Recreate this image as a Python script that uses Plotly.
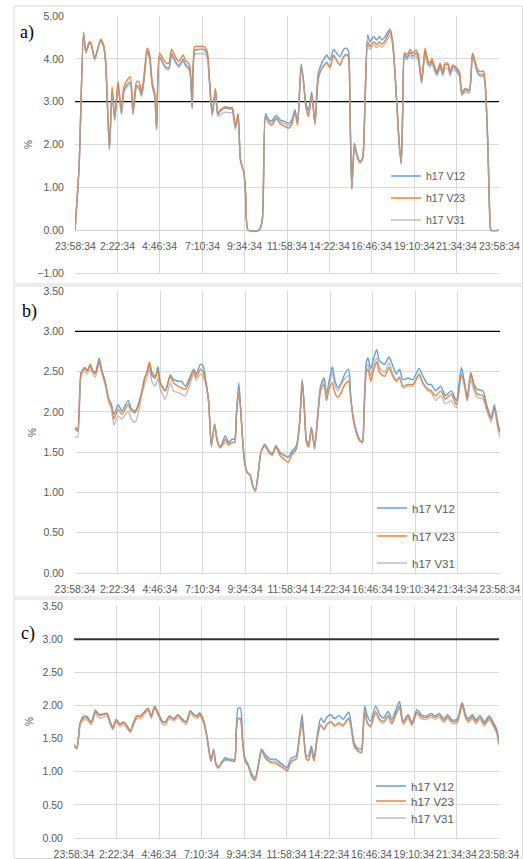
import plotly.graph_objects as go

# ---------------- data ----------------
time_labels = ["23:58:34", "2:22:34", "4:46:34", "7:10:34", "9:34:34", "11:58:34",
               "14:22:34", "16:46:34", "19:10:34", "21:34:34", "23:58:34"]
tick_minutes = [0, 144, 288, 432, 576, 720, 864, 1008, 1152, 1296, 1440]
series_names = ["h17 V12", "h17 V23", "h17 V31"]
limit_minutes = [0, 1440]
limit_value = [3.0, 3.0]

a_minutes = [0, 14, 29, 37, 49, 55, 67, 87, 97, 104,
             117, 126, 135, 146, 158, 166, 177, 188, 197, 209,
             217, 226, 234, 245, 253, 262, 271, 277, 287, 302,
             310, 319, 328, 341, 353, 367, 375, 389, 398, 407,
             421, 438, 449, 457, 466, 477, 485, 494, 511, 523,
             534, 545, 554, 562, 574, 580, 588, 625, 636, 647,
             658, 668, 684, 698, 715, 725, 736, 747, 756, 768,
             776, 784, 793, 804, 815, 826, 838, 847, 855, 866,
             878, 889, 900, 912, 923, 929, 934, 940, 949, 957,
             968, 977, 985, 994, 1002, 1014, 1025, 1034, 1042, 1053,
             1070, 1079, 1091, 1101, 1108, 1113, 1119, 1127, 1138, 1147,
             1158, 1166, 1177, 1189, 1198, 1206, 1212, 1221, 1229, 1240,
             1249, 1257, 1266, 1274, 1283, 1297, 1306, 1314, 1325, 1339,
             1350, 1359, 1368, 1379, 1387, 1393, 1402, 1408, 1413, 1440]
a_v12 = [0, 1.5, 4.60, 4.15, 4.38, 4.34, 3.99, 4.43, 4.30, 3.93,
         1.88, 3.28, 2.58, 3.38, 2.72, 3.25, 3.40, 3.45, 2.72, 3.37,
         3.35, 3.15, 3.50, 4.17, 4.05, 3.40, 3.13, 2.35, 4.05, 3.87,
         3.80, 3.79, 4.12, 3.95, 3.84, 3.99, 3.87, 3.77, 2.85, 4.20,
         4.22, 4.22, 4.10, 3.45, 2.70, 3.28, 2.70, 2.78, 2.85, 2.83,
         2.83, 2.40, 2.72, 1.64, 1.33, 0.78, 0, 0, 0.23, 2.72,
         2.58, 2.55, 2.68, 2.57, 2.53, 2.49, 2.57, 2.81, 2.52, 3.88,
         3.50, 2.96, 2.80, 3.22, 2.52, 3.66, 3.90, 4.01, 4.09, 3.97,
         4.22, 4.13, 4.05, 4.22, 4.25, 4.17, 2.80, 0.97, 2.03, 1.79,
         1.60, 1.71, 3.04, 4.56, 4.40, 4.52, 4.44, 4.52, 4.44, 4.52,
         4.69, 4.40, 3.20, 2.03, 1.56, 2.80, 4.10, 4.02, 4.15, 4.06,
         4.13, 4.02, 3.45, 4.18, 3.92, 3.85, 3.95, 3.77, 3.65, 3.85,
         3.65, 3.86, 3.86, 3.66, 3.82, 3.73, 3.62, 3.18, 3.27, 3.25,
         4.13, 3.90, 3.68, 3.62, 3.65, 3.40, 2.03, 0.47, 0, 0]
a_v23 = [0, 1.5, 4.62, 4.17, 4.40, 4.36, 4.01, 4.46, 4.33, 3.97,
         1.91, 3.35, 2.61, 3.47, 2.77, 3.35, 3.50, 3.58, 2.77, 3.47,
         3.47, 3.23, 3.58, 4.25, 4.13, 3.47, 3.20, 2.38, 4.13, 3.97,
         3.90, 3.90, 4.22, 4.05, 3.94, 4.09, 3.97, 3.86, 2.88, 4.29,
         4.29, 4.29, 4.17, 3.50, 2.73, 3.31, 2.73, 2.81, 2.88, 2.86,
         2.86, 2.42, 2.69, 1.64, 1.33, 0.78, 0, 0, 0.23, 2.65,
         2.50, 2.45, 2.60, 2.48, 2.42, 2.38, 2.47, 2.75, 2.45, 3.82,
         3.45, 2.88, 2.65, 3.15, 2.46, 3.52, 3.78, 3.86, 3.92, 3.80,
         4.09, 3.97, 3.86, 4.05, 4.10, 4.05, 2.80, 0.97, 2.00, 1.75,
         1.58, 1.68, 3.00, 4.40, 4.29, 4.40, 4.33, 4.40, 4.34, 4.42,
         4.64, 4.36, 3.20, 2.03, 1.56, 2.80, 4.15, 4.09, 4.22, 4.13,
         4.20, 4.09, 3.50, 4.25, 3.97, 3.90, 4.01, 3.82, 3.70, 3.90,
         3.70, 3.90, 3.90, 3.70, 3.86, 3.78, 3.70, 3.23, 3.31, 3.27,
         4.13, 3.94, 3.74, 3.70, 3.72, 3.43, 2.03, 0.47, 0, 0]
a_v31 = [0, 1.5, 4.58, 4.13, 4.35, 4.32, 3.97, 4.41, 4.28, 3.90,
         1.87, 3.22, 2.55, 3.32, 2.70, 3.22, 3.35, 3.40, 2.70, 3.33,
         3.30, 3.12, 3.45, 4.12, 4.00, 3.35, 3.10, 2.33, 4.02, 3.83,
         3.76, 3.75, 4.08, 3.91, 3.80, 3.95, 3.83, 3.72, 2.82, 4.10,
         4.12, 4.12, 4.02, 3.40, 2.65, 3.22, 2.66, 2.70, 2.76, 2.74,
         2.74, 2.35, 2.62, 1.62, 1.32, 0.78, 0, 0, 0.23, 2.68,
         2.53, 2.50, 2.63, 2.52, 2.48, 2.44, 2.52, 2.78, 2.48, 3.80,
         3.45, 2.90, 2.70, 3.15, 2.48, 3.55, 3.76, 3.84, 3.90, 3.78,
         4.05, 3.95, 3.84, 4.03, 4.08, 4.03, 2.78, 0.95, 1.98, 1.74,
         1.56, 1.66, 2.98, 4.35, 4.22, 4.33, 4.26, 4.33, 4.27, 4.35,
         4.55, 4.30, 3.18, 2.00, 1.55, 2.78, 4.05, 3.98, 4.08, 4.00,
         4.05, 3.96, 3.42, 4.10, 3.85, 3.80, 3.90, 3.72, 3.60, 3.78,
         3.60, 3.78, 3.78, 3.60, 3.75, 3.68, 3.58, 3.15, 3.22, 3.20,
         4.08, 3.85, 3.65, 3.58, 3.60, 3.38, 2.03, 0.47, 0, 0]

b_minutes = [0, 9, 21, 33, 41, 52, 60, 69, 82, 91,
             103, 114, 123, 132, 146, 159, 180, 191, 204, 216,
             227, 236, 244, 252, 261, 272, 281, 289, 306, 323,
             334, 349, 360, 374, 388, 402, 411, 425, 434, 444,
             453, 462, 473, 481, 492, 509, 521, 532, 541, 547,
             555, 561, 568, 575, 583, 594, 603, 611, 620, 630,
             643, 656, 668, 681, 696, 707, 722, 733, 750, 761,
             770, 778, 784, 792, 801, 812, 823, 832, 844, 852,
             861, 872, 880, 891, 902, 914, 927, 934, 942, 953,
             964, 974, 979, 987, 993, 1002, 1011, 1022, 1032, 1049,
             1064, 1077, 1089, 1100, 1111, 1128, 1145, 1166, 1179, 1196,
             1207, 1222, 1239, 1255, 1275, 1292, 1309, 1320, 1329, 1341,
             1352, 1363, 1382, 1396, 1410, 1421, 1433, 1440]
b_v12 = [1.79, 1.76, 2.49, 2.55, 2.51, 2.57, 2.51, 2.49, 2.67, 2.51,
         2.36, 2.16, 2.09, 1.97, 2.09, 2.01, 2.14, 2.04, 2.01, 2.11,
         2.26, 2.42, 2.49, 2.59, 2.45, 2.42, 2.56, 2.36, 2.26, 2.46,
         2.40, 2.38, 2.38, 2.32, 2.42, 2.53, 2.47, 2.59, 2.57, 2.36,
         2.12, 1.58, 1.85, 1.66, 1.56, 1.70, 1.62, 1.66, 1.66, 1.99,
         2.36, 2.07, 1.66, 1.37, 1.25, 1.21, 1.07, 1.02, 1.21, 1.50,
         1.60, 1.52, 1.48, 1.58, 1.48, 1.46, 1.44, 1.50, 1.58, 1.87,
         2.40, 1.99, 1.66, 1.60, 1.81, 1.58, 1.99, 2.32, 2.42, 2.22,
         2.38, 2.56, 2.40, 2.30, 2.36, 2.47, 2.53, 2.20, 1.95, 1.77,
         1.66, 1.62, 1.99, 2.61, 2.67, 2.53, 2.65, 2.77, 2.63, 2.59,
         2.68, 2.57, 2.47, 2.53, 2.40, 2.42, 2.40, 2.54, 2.44, 2.34,
         2.34, 2.26, 2.32, 2.20, 2.26, 2.14, 2.55, 2.36, 2.18, 2.49,
         2.34, 2.28, 2.26, 2.07, 1.93, 2.09, 1.85, 1.75]
b_v23 = [1.81, 1.78, 2.49, 2.53, 2.51, 2.59, 2.51, 2.47, 2.63, 2.51,
         2.36, 2.16, 2.09, 1.91, 2.03, 1.97, 2.09, 2.01, 1.99, 2.09,
         2.26, 2.42, 2.49, 2.62, 2.49, 2.44, 2.51, 2.36, 2.26, 2.44,
         2.36, 2.32, 2.30, 2.28, 2.38, 2.51, 2.43, 2.53, 2.49, 2.36,
         2.12, 1.58, 1.85, 1.66, 1.56, 1.66, 1.60, 1.62, 1.62, 1.95,
         2.24, 2.03, 1.64, 1.37, 1.25, 1.21, 1.07, 1.02, 1.21, 1.50,
         1.58, 1.50, 1.46, 1.56, 1.45, 1.42, 1.37, 1.46, 1.54, 1.85,
         2.38, 1.97, 1.62, 1.56, 1.79, 1.54, 1.95, 2.26, 2.34, 2.14,
         2.28, 2.36, 2.24, 2.18, 2.24, 2.34, 2.38, 2.17, 1.92, 1.74,
         1.64, 1.62, 1.95, 2.49, 2.53, 2.38, 2.51, 2.62, 2.49, 2.44,
         2.55, 2.44, 2.38, 2.42, 2.32, 2.34, 2.34, 2.47, 2.36, 2.28,
         2.26, 2.20, 2.26, 2.16, 2.22, 2.09, 2.47, 2.34, 2.14, 2.47,
         2.32, 2.22, 2.20, 2.03, 1.91, 2.05, 1.83, 1.75]
b_v31 = [1.70, 1.68, 2.45, 2.50, 2.47, 2.53, 2.47, 2.43, 2.60, 2.47,
         2.32, 2.12, 2.04, 1.83, 1.95, 1.91, 2.01, 1.91, 1.87, 2.01,
         2.22, 2.34, 2.43, 2.53, 2.37, 2.32, 2.42, 2.28, 2.16, 2.36,
         2.26, 2.24, 2.22, 2.20, 2.32, 2.47, 2.39, 2.47, 2.43, 2.32,
         2.10, 1.56, 1.83, 1.64, 1.55, 1.62, 1.58, 1.62, 1.62, 1.97,
         2.30, 2.05, 1.64, 1.37, 1.25, 1.21, 1.07, 1.02, 1.21, 1.50,
         1.60, 1.52, 1.48, 1.58, 1.50, 1.48, 1.43, 1.48, 1.56, 1.86,
         2.38, 1.98, 1.64, 1.58, 1.80, 1.56, 1.97, 2.30, 2.38, 2.18,
         2.33, 2.49, 2.34, 2.26, 2.34, 2.41, 2.45, 2.19, 1.94, 1.76,
         1.65, 1.63, 1.97, 2.53, 2.59, 2.45, 2.57, 2.67, 2.55, 2.49,
         2.61, 2.47, 2.40, 2.44, 2.30, 2.32, 2.32, 2.45, 2.34, 2.26,
         2.24, 2.14, 2.20, 2.10, 2.14, 2.05, 2.44, 2.30, 2.14, 2.40,
         2.26, 2.18, 2.16, 2.01, 1.87, 2.03, 1.78, 1.68]

c_minutes = [0, 10, 21, 33, 44, 59, 72, 86, 97, 112,
             123, 132, 143, 155, 168, 180, 191, 202, 213, 225,
             236, 251, 262, 273, 285, 298, 309, 323, 338, 352,
             366, 380, 394, 405, 417, 425, 437, 448, 456, 464,
             473, 481, 490, 501, 513, 524, 535, 544, 550, 556,
             564, 572, 579, 590, 603, 614, 626, 635, 648, 665,
             682, 693, 707, 722, 733, 739, 753, 765, 773, 779,
             787, 795, 804, 813, 824, 836, 847, 855, 870, 883,
             898, 911, 931, 940, 949, 960, 974, 979, 985, 994,
             1005, 1022, 1036, 1049, 1064, 1077, 1089, 1103, 1115, 1132,
             1145, 1162, 1177, 1195, 1209, 1224, 1238, 1253, 1266, 1281,
             1298, 1315, 1327, 1336, 1350, 1362, 1376, 1390, 1407, 1421,
             1432, 1440]
c_v12 = [1.40, 1.36, 1.74, 1.84, 1.83, 1.75, 1.93, 1.86, 1.87, 1.88,
         1.75, 1.67, 1.79, 1.72, 1.75, 1.69, 1.62, 1.75, 1.84, 1.84,
         1.89, 1.96, 1.84, 1.99, 1.89, 1.77, 1.75, 1.84, 1.80, 1.86,
         1.80, 1.75, 1.92, 1.87, 1.84, 1.89, 1.80, 1.60, 1.37, 1.17,
         1.34, 1.12, 1.07, 1.15, 1.21, 1.19, 1.19, 1.17, 1.66, 1.96,
         1.96, 1.44, 1.21, 1.11, 0.96, 0.91, 1.14, 1.34, 1.26, 1.19,
         1.19, 1.16, 1.11, 1.06, 1.19, 1.21, 1.24, 1.59, 1.86, 1.54,
         1.24, 1.24, 1.39, 1.21, 1.54, 1.81, 1.74, 1.81, 1.86, 1.80,
         1.85, 1.79, 1.90, 1.69, 1.44, 1.36, 1.34, 1.59, 1.99, 1.84,
         1.76, 1.99, 1.86, 1.81, 1.91, 1.79, 1.91, 2.06, 1.76, 1.86,
         1.74, 1.94, 1.86, 1.84, 1.88, 1.84, 1.88, 1.80, 1.86, 1.78,
         1.79, 2.04, 1.86, 1.80, 1.86, 1.78, 1.85, 1.75, 1.84, 1.74,
         1.64, 1.44]
c_v23 = [1.41, 1.36, 1.74, 1.81, 1.81, 1.74, 1.90, 1.85, 1.86, 1.87,
         1.74, 1.65, 1.79, 1.71, 1.74, 1.68, 1.61, 1.74, 1.84, 1.83,
         1.88, 1.95, 1.83, 1.98, 1.88, 1.76, 1.74, 1.83, 1.79, 1.85,
         1.79, 1.74, 1.91, 1.86, 1.83, 1.87, 1.79, 1.59, 1.36, 1.16,
         1.33, 1.11, 1.06, 1.14, 1.18, 1.18, 1.16, 1.16, 1.62, 1.81,
         1.80, 1.40, 1.16, 1.09, 0.91, 0.87, 1.12, 1.31, 1.21, 1.14,
         1.13, 1.10, 1.06, 1.01, 1.12, 1.16, 1.19, 1.55, 1.76, 1.50,
         1.19, 1.17, 1.34, 1.16, 1.50, 1.71, 1.64, 1.71, 1.76, 1.70,
         1.74, 1.70, 1.81, 1.64, 1.39, 1.33, 1.29, 1.55, 1.91, 1.74,
         1.69, 1.91, 1.79, 1.76, 1.85, 1.74, 1.86, 1.99, 1.74, 1.84,
         1.72, 1.90, 1.83, 1.82, 1.85, 1.82, 1.85, 1.77, 1.83, 1.76,
         1.76, 2.01, 1.83, 1.77, 1.83, 1.75, 1.82, 1.72, 1.81, 1.71,
         1.61, 1.42]
c_v31 = [1.38, 1.34, 1.70, 1.78, 1.78, 1.71, 1.87, 1.81, 1.82, 1.84,
         1.70, 1.63, 1.76, 1.68, 1.71, 1.65, 1.59, 1.71, 1.80, 1.80,
         1.85, 1.92, 1.80, 1.95, 1.85, 1.73, 1.70, 1.80, 1.76, 1.82,
         1.76, 1.71, 1.88, 1.83, 1.80, 1.84, 1.76, 1.57, 1.35, 1.15,
         1.32, 1.10, 1.05, 1.13, 1.18, 1.17, 1.16, 1.15, 1.62, 1.79,
         1.78, 1.40, 1.18, 1.09, 0.93, 0.89, 1.13, 1.32, 1.23, 1.16,
         1.16, 1.13, 1.08, 1.03, 1.15, 1.17, 1.20, 1.55, 1.74, 1.50,
         1.20, 1.19, 1.35, 1.17, 1.50, 1.70, 1.63, 1.70, 1.74, 1.68,
         1.72, 1.68, 1.79, 1.63, 1.38, 1.31, 1.28, 1.54, 1.88, 1.72,
         1.67, 1.88, 1.76, 1.73, 1.82, 1.71, 1.83, 1.96, 1.71, 1.80,
         1.69, 1.87, 1.80, 1.79, 1.82, 1.79, 1.82, 1.74, 1.80, 1.73,
         1.73, 1.98, 1.80, 1.74, 1.80, 1.72, 1.79, 1.69, 1.78, 1.68,
         1.58, 1.40]

for t, *vs in [(a_minutes, a_v12, a_v23, a_v31), (b_minutes, b_v12, b_v23, b_v31),
               (c_minutes, c_v12, c_v23, c_v31)]:
    for v in vs:
        assert len(v) == len(t), (len(t), len(v))

# ---------------- styling ----------------
W, H = 523, 859
colors = ["#5B9BD5", "#ED7D31", "#A5A5A5"]
opac = [0.95, 0.95, 0.72]
grid = "#D9D9D9"
txt = "#595959"
FONT = "Liberation Sans"


def fx(p):
    return p / W


def fy(p):
    return 1 - p / H


panels = [
    dict(t=a_minutes, vals=[a_v12, a_v23, a_v31], xd=[75, 499], yd=[16, 273],
         yr=[-1, 5], dt=1, label="a)", lab_xy=(27, 32), pct_xy=(28, 145),
         leg_x=392, leg_rows=[176, 198, 220], leg_font=10.5, limw=1.3, limc="#000000"),
    dict(t=b_minutes, vals=[b_v12, b_v23, b_v31], xd=[75, 500], yd=[291, 573],
         yr=[0, 3.5], dt=0.5, label="b)", lab_xy=(29, 311), pct_xy=(32, 433),
         leg_x=378, leg_rows=[508, 536, 563], leg_font=11.5, limw=1.3, limc="#000000"),
    dict(t=c_minutes, vals=[c_v12, c_v23, c_v31], xd=[74, 499], yd=[606, 838],
         yr=[0, 3.5], dt=0.5, label="c)", lab_xy=(28, 633), pct_xy=(29, 722),
         leg_x=377, leg_rows=[786, 801, 818], leg_font=11.5, limw=2, limc="#333333"),
]

fig = go.Figure()
layout = dict(width=W, height=H, margin=dict(l=0, r=0, t=0, b=0, autoexpand=False),
              paper_bgcolor="white", plot_bgcolor="white", showlegend=True,
              font=dict(family=FONT, color=txt, size=10.5))
annotations = []
shapes = []
legend_no = 0

box_rows = [(6, 284), (286, 597), (599, 858.5)]

for k, p in enumerate(panels):
    sfx = "" if k == 0 else str(k + 1)
    xa, ya = "x" + sfx, "y" + sfx
    # limit line
    fig.add_trace(go.Scatter(x=limit_minutes, y=limit_value, mode="lines",
                             line=dict(color=p["limc"], width=p["limw"]),
                             showlegend=False, hoverinfo="skip", xaxis=xa, yaxis=ya))
    for j in range(3):
        legend_no += 1
        lname = "legend" if legend_no == 1 else "legend%d" % legend_no
        fig.add_trace(go.Scatter(x=p["t"], y=p["vals"][j], mode="lines", name=series_names[j],
                                 opacity=opac[j],
                                 line=dict(color=colors[j], width=1.4, shape="spline", smoothing=0.6),
                                 xaxis=xa, yaxis=ya, legend=lname))
        layout[lname] = dict(x=fx(p["leg_x"] - 6), xanchor="left",
                             y=fy(p["leg_rows"][j]), yanchor="middle",
                             bgcolor="rgba(0,0,0,0)", borderwidth=0,
                             font=dict(family=FONT, size=p["leg_font"], color=txt))
    layout["xaxis" + sfx] = dict(
        domain=[fx(p["xd"][0]), fx(p["xd"][1])], anchor=ya, range=[0, 1440],
        tickvals=tick_minutes, ticktext=time_labels, showticklabels=(k != 0),
        tickangle=0,
        showgrid=True, gridcolor=grid, gridwidth=1, zeroline=False,
        showline=True, linecolor=grid, linewidth=1, mirror=False,
        ticks="outside", ticklen=6, tickcolor="rgba(0,0,0,0)",
        tickfont=dict(family=FONT, size=10.5, color=txt), fixedrange=True)
    layout["yaxis" + sfx] = dict(
        domain=[fy(p["yd"][1]), fy(p["yd"][0])], anchor=xa, range=p["yr"],
        tick0=p["yr"][0], dtick=p["dt"], tickformat=".2f",
        showgrid=True, gridcolor=grid, gridwidth=1,
        zeroline=(k == 0), zerolinecolor="#D0D0D0", zerolinewidth=1,
        showline=False, ticks="outside", ticklen=8, tickcolor="rgba(0,0,0,0)",
        tickfont=dict(family=FONT, size=10.5, color=txt), fixedrange=True)
    # panel letter
    annotations.append(dict(x=fx(p["lab_xy"][0]), y=fy(p["lab_xy"][1]), xref="paper", yref="paper",
                            text=p["label"], showarrow=False, xanchor="center", yanchor="middle",
                            font=dict(family="Liberation Serif", size=18, color="#000000")))
    # y title
    annotations.append(dict(x=fx(p["pct_xy"][0]), y=fy(p["pct_xy"][1]), xref="paper", yref="paper",
                            text="%", showarrow=False, textangle=-90, xanchor="center", yanchor="middle",
                            font=dict(family=FONT, size=10, color=txt)))
    # panel frame
    shapes.append(dict(type="rect", xref="paper", yref="paper", x0=fx(14), x1=fx(522.5),
                       y0=fy(box_rows[k][1]), y1=fy(box_rows[k][0]),
                       line=dict(color=grid, width=1), layer="below"))

# panel a: category labels sit under the 0.00 line
for tv, tl in zip(tick_minutes, time_labels):
    annotations.append(dict(x=tv, y=0, xref="x", yref="y", text=tl, showarrow=False,
                            xanchor="center", yanchor="middle", yshift=-16,
                            font=dict(family=FONT, size=10.5, color=txt)))

layout["annotations"] = annotations
layout["shapes"] = shapes
fig.update_layout(**layout)
fig.write_html("out.html", config={"responsive": False, "displayModeBar": False},
               post_script="document.body.style.margin='0';document.body.style.overflow='hidden';")
